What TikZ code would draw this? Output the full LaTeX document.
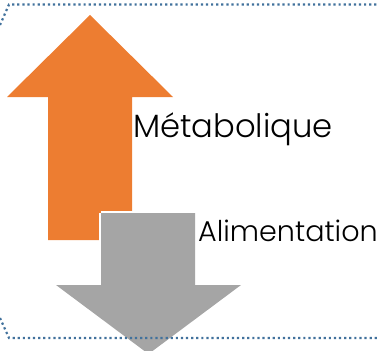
\documentclass[tikz,border=0pt]{standalone}
\usepackage{fontspec}
\setmainfont{Poppins Light}
\definecolor{orangeA}{HTML}{ED7D31}
\definecolor{greyA}{HTML}{A5A5A5}
\definecolor{blueA}{HTML}{41719C}
\tikzset{
  framedots/.style={draw=blueA,line width=2.2pt,dash pattern=on 2.2pt off 2.9pt},
  labeltext/.style={anchor=base west,inner sep=0pt,text=black}
}
\begin{document}
\begin{tikzpicture}[x=1pt,y=-1pt]
\useasboundingbox (0,0) rectangle (379,350);
\clip (0,0) rectangle (379,350);
\fill[orangeA] (90,15) -- (173,97) -- (132,97) -- (132,240) -- (48,240) -- (48,97) -- (7,97) -- cycle;
\draw[white,line width=5pt,line join=miter] (101,213) -- (195,213) -- (195,285);
\draw[white,line width=5pt] (101,213) -- (101,285);
\fill[greyA] (101,213) -- (195,213) -- (195,285) -- (241,285) -- (148.5,354) -- (56,285) -- (101,285) -- cycle;
\draw[framedots] (0,25) -- (9,4.5) -- (379,4.5);
\draw[framedots] (0,318) -- (9,338) -- (379,338);
\node[labeltext,font=\fontsize{32.2}{36}\selectfont] (metab) at (133,137) {Métabolique};
\node[labeltext,font=\fontsize{28.6}{32}\selectfont] (alim) at (198,241) {Alimentation};
\end{tikzpicture}
\end{document}
